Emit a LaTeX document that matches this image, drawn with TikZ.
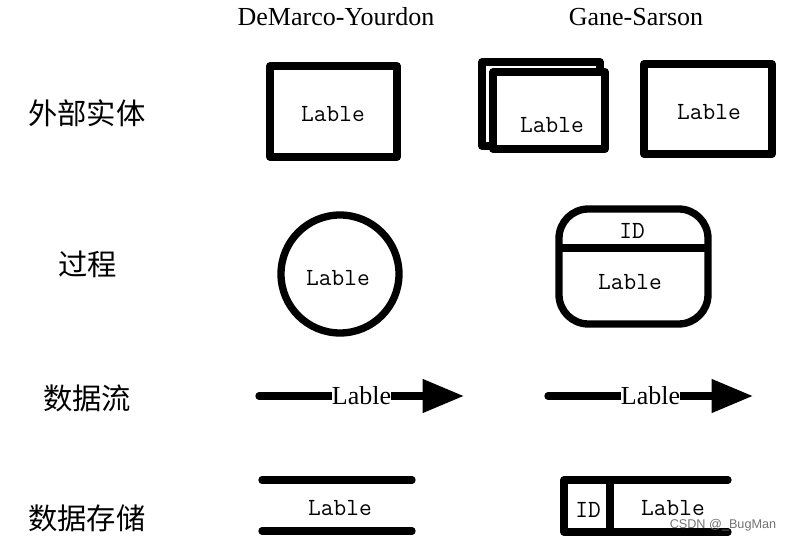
\documentclass[tikz,border=0pt]{standalone}
\usepackage{fontspec}
\setmainfont{Liberation Serif}
\newfontfamily\cjkfont{Noto Sans CJK SC}
\newfontfamily\wmfont{Liberation Sans}
\usetikzlibrary{arrows.meta}

\begin{document}
\begin{tikzpicture}[x=0.75pt,y=-0.75pt,
  symb/.style={line width=5.5pt,line join=round},
  lbl/.style={font=\ttfamily\fontsize{18.5}{19}\selectfont,inner sep=0pt},
  rowlbl/.style={font=\cjkfont\fontsize{22}{22}\selectfont},
  colhead/.style={font=\fontsize{19.5}{20}\selectfont},
  flowlbl/.style={font=\fontsize{19.5}{20}\selectfont,fill=white,inner sep=0.3pt}]
\useasboundingbox (0,0) rectangle (790,541);
% column and row titles
\node[colhead] (dyhead) at (336,17) {DeMarco-Yourdon};
\node[colhead] (gshead) at (636,17) {Gane-Sarson};
\node[rowlbl] (entrow) at (87,113) {外部实体};
\node[rowlbl] (procrow) at (88,264) {过程};
\node[rowlbl] (flowrow) at (87,398) {数据流};
\node[rowlbl] (storerow) at (87,518) {数据存储};
% external entity
\draw[symb] (270,66) rectangle (397,157);
\node[lbl] (dyent) at (333,114) {Lable};
\draw[symb] (482,62) rectangle (600,146);
\draw[symb,fill=white] (493,72) rectangle (605,149);
\node[lbl] (gsentA) at (552,125) {Lable};
\draw[symb] (644,64) rectangle (772,154);
\node[lbl] (gsentB) at (709,112) {Lable};
% process
\draw[symb] (340,274) circle[radius=59];
\node[lbl] (dyproc) at (338,278) {Lable};
\draw[symb,rounded corners=22pt] (559,209) rectangle (708,324);
\draw[symb] (559,248) -- (708,248);
\node[lbl] (gsid) at (632,231) {ID};
\node[lbl] (gsproc) at (630,282) {Lable};
% data flow
\coordinate (dyfs) at (259,396); \coordinate (dyfe) at (464,396);
\coordinate (gsfs) at (548,396); \coordinate (gsfe) at (753,396);
\draw[symb,line cap=round,-{Triangle[length=31pt,width=24pt]}] (dyfs) -- node[flowlbl] (dyflow) {Lable} (dyfe);
\draw[symb,line cap=round,-{Triangle[length=31pt,width=24pt]}] (gsfs) -- node[flowlbl] (gsflow) {Lable} (gsfe);
% data store
\coordinate (dysa) at (262,480); \coordinate (dysb) at (412,480);
\coordinate (dysc) at (262,531); \coordinate (dysd) at (412,531);
\draw[symb,line cap=round] (dysa) -- (dysb);
\draw[symb,line cap=round] (dysc) -- (dysd);
\node[lbl] (dystore) at (340,508) {Lable};
\draw[symb,line cap=round] (728,480) -- (564,480) -- (564,532) -- (728,532);
\draw[symb] (610,480) -- (610,532);
\node[lbl] (gsstid) at (588,510) {ID};
\node[lbl] (gsstore) at (673,508) {Lable};
\node[font=\wmfont\fontsize{9.5}{10}\selectfont,text=gray!90!black] (wm) at (723,525) {CSDN @\_BugMan};
\end{tikzpicture}
\end{document}
